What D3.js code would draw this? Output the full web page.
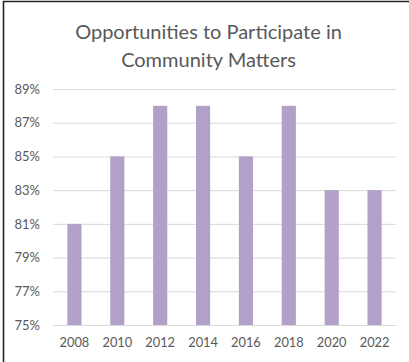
<!DOCTYPE html>
<html>
<head>
<meta charset="utf-8">
<script src="https://d3js.org/d3.v7.min.js"></script>
<style>
  html, body { margin: 0; padding: 0; background: #fff; }
  svg { display: block; }
</style>
</head>
<body>
<div id="chart"></div>
<script>
// Survey years and share of respondents (percent)
const years = ["2008", "2010", "2012", "2014", "2016", "2018", "2020", "2022"];
const shares = [81, 85, 88, 88, 85, 88, 83, 83];
const yTicks = [75, 77, 79, 81, 83, 85, 87, 89];
const titleLines = ["Opportunities to Participate in", "Community Matters"];

const W = 409, H = 362;
const font = "Lato, 'Open Sans', sans-serif";
const textColor = "#595959";

const svg = d3.select("#chart").append("svg")
  .attr("width", W).attr("height", H);

svg.append("rect").attr("width", W).attr("height", H).attr("fill", "#fff");

// Frame: top and left edges
svg.append("path")
  .attr("d", `M3.5,${H} L3.5,1.5 L${W},1.5`)
  .attr("fill", "none")
  .attr("stroke", "#262626")
  .attr("stroke-width", 1.6);

const plot = { left: 53, right: 396, top: 89, bottom: 325 };

const x = d3.scaleBand()
  .domain(years)
  .range([plot.left, plot.right])
  .paddingInner(0.67)
  .paddingOuter(0.335);

const y = d3.scaleLinear()
  .domain([75, 89])
  .range([plot.bottom, plot.top]);

// Title
svg.append("g").selectAll("text")
  .data(titleLines)
  .join("text")
  .attr("x", 208.5)
  .attr("y", (d, i) => 39 + i * 28)
  .attr("text-anchor", "middle")
  .attr("font-family", font)
  .attr("font-size", 20)
  .attr("fill", textColor)
  .text(d => d);

// Gridlines
const yAxis = d3.axisLeft(y)
  .tickValues(yTicks)
  .tickSize(-(plot.right - plot.left))
  .tickPadding(13)
  .tickFormat(d => d + "%");

const gy = svg.append("g")
  .attr("transform", `translate(${plot.left},0)`)
  .call(yAxis);
gy.select(".domain").remove();
gy.selectAll(".tick line").attr("stroke", "#d9d9d9").attr("stroke-width", 1);
gy.selectAll(".tick text")
  .attr("font-family", font)
  .attr("font-size", 13)
  .attr("fill", textColor);

// Bars
svg.append("g").selectAll("rect")
  .data(years.map((yr, i) => ({ yr, v: shares[i] })))
  .join("rect")
  .attr("x", d => x(d.yr))
  .attr("width", x.bandwidth())
  .attr("y", d => y(d.v))
  .attr("height", d => y(75) - y(d.v))
  .attr("fill", "#b1a0c7");

// Category axis
const xAxis = d3.axisBottom(x).tickSize(0).tickPadding(13);
const gx = svg.append("g")
  .attr("transform", `translate(0,${plot.bottom})`)
  .call(xAxis);
gx.select(".domain").attr("stroke", "#d9d9d9");
gx.selectAll(".tick text")
  .attr("font-family", font)
  .attr("font-size", 12.8)
  .attr("fill", textColor);
</script>
</body>
</html>
